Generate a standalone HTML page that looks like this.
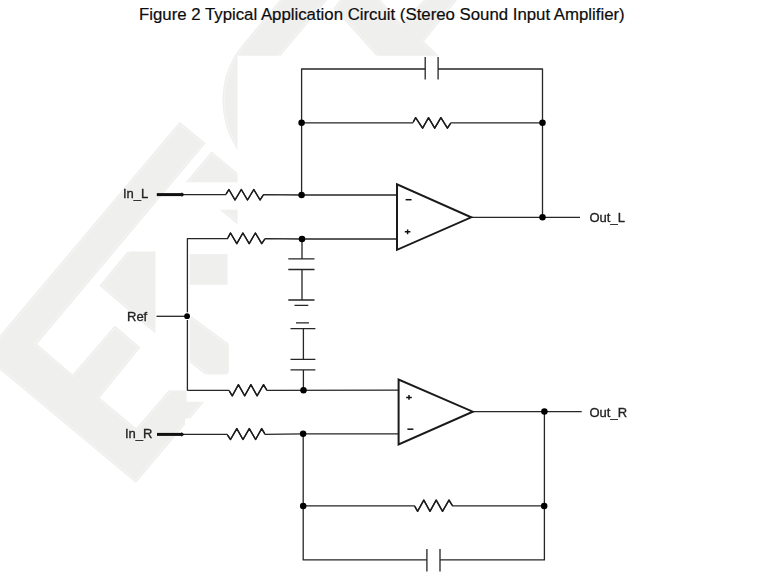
<!DOCTYPE html>
<html>
<head>
<meta charset="utf-8">
<title>Figure 2 Typical Application Circuit</title>
<style>
  html, body { margin: 0; padding: 0; background: #ffffff; }
  body { width: 770px; height: 578px; overflow: hidden; position: relative;
         font-family: "Liberation Sans", sans-serif; }
  svg { position: absolute; left: 0; top: 0; display: block; }
  #circuit { will-change: transform; }
  #title { position: absolute; left: 139px; top: 5px; margin: 0; font-size: 16.8px; line-height: 19px; white-space: nowrap; color: #0c0c0c; font-weight: normal; -webkit-text-stroke: 0.2px #0c0c0c; }
  .wm { fill: #efefee; stroke: none; }
  .w  { fill: #ffffff; stroke: none; }
  .ln { fill: none; stroke: #262626; stroke-width: 1.3; stroke-linecap: butt; stroke-linejoin: round; }
  .rz { fill: none; stroke: #1c1c1c; stroke-width: 1.4; stroke-linecap: round; stroke-linejoin: round; }
  .thick { fill: none; stroke: #111111; stroke-width: 3; }
  .amp { fill: none; stroke: #1a1a1a; stroke-width: 2; stroke-linejoin: miter; }
  .dot { fill: #000000; }
  .lbl { font-family: "Liberation Sans", sans-serif; font-size: 13px; fill: #222222; stroke: #222222; stroke-width: 0.32; }
  .ttl { font-family: "Liberation Sans", sans-serif; font-size: 16.8px; fill: #0c0c0c; stroke: #0c0c0c; stroke-width: 0.2; }
  .sg  { fill: none; stroke: #111; stroke-width: 1.5; }
</style>
</head>
<body>
<svg width="770" height="578" viewBox="0 0 770 578">
  <rect x="0" y="0" width="770" height="578" fill="#ffffff"/>

  <!-- ================= watermark (light grey logo fragments) ================= -->
  <defs><clipPath id="wmclip"><path d="M280,0 L327.3,0 L280.7,55.8 L237.5,55.8 L237.5,150 A88,88 0 0 1 243.6,43.4 Z"/>
    <path d="M340,0 L380.3,0 L401,22.9 L424,0 L457,0 L424,41.6 L438.5,55.8 L376.4,55.8 L333.6,8.2 Z"/>
    
    <path d="M179.7,121.8 L205.7,143.3 L37.1,344 L72.6,374.4 L114.8,325.5 L140.5,347.6 L99.6,397.8 L136.2,428.3
             L168.5,390.4 L186.6,390.4 L186.6,401.8 L204.1,401.8 L190.2,418.6 L185.2,418.6 L185.2,424.4
             L135.9,483.1 L-17.1,355.6 Z"/>
    
    <path d="M211.6,151.4 L237.5,173.1 L237.5,182.2 L185.7,182.2 Z"/>
    <path d="M219.9,209.8 L237.5,209.8 L237.5,224.4 Z"/>
    <path d="M127.6,251.4 L155.5,251.4 L155.5,333.5 L99.4,285.7 Z"/>
    <rect x="189.7" y="254.1" width="37.9" height="30.6"/>
    <path d="M189.7,314.9 L228.8,343.7 L228.8,371 Q228.8,374.4 225.4,374.4 L205.3,374.4 L189.7,362.3 Z"/></clipPath></defs>
  <g class="wm">
    <!-- top shape: arc + bands near the title -->
    <path d="M280,0 L327.3,0 L280.7,55.8 L237.5,55.8 L237.5,150 A88,88 0 0 1 243.6,43.4 Z"/>
    <path d="M340,0 L380.3,0 L401,22.9 L424,0 L457,0 L424,41.6 L438.5,55.8 L376.4,55.8 L333.6,8.2 Z"/>
    <!-- first "E": top arm, spine, middle arm, bottom arm -->
    <path d="M179.7,121.8 L205.7,143.3 L37.1,344 L72.6,374.4 L114.8,325.5 L140.5,347.6 L99.6,397.8 L136.2,428.3
             L168.5,390.4 L186.6,390.4 L186.6,401.8 L204.1,401.8 L190.2,418.6 L185.2,418.6 L185.2,424.4
             L135.9,483.1 L-17.1,355.6 Z"/>
    <!-- second shape fragments -->
    <path d="M211.6,151.4 L237.5,173.1 L237.5,182.2 L185.7,182.2 Z"/>
    <path d="M219.9,209.8 L237.5,209.8 L237.5,224.4 Z"/>
    <path d="M127.6,251.4 L155.5,251.4 L155.5,333.5 L99.4,285.7 Z"/>
    <rect x="189.7" y="254.1" width="37.9" height="30.6"/>
    <path d="M189.7,314.9 L228.8,343.7 L228.8,371 Q228.8,374.4 225.4,374.4 L205.3,374.4 L189.7,362.3 Z"/>
  </g>
  <!-- faint inner outline of the logo (natural edges only) -->
  <g clip-path="url(#wmclip)" fill="none" stroke="#ffffff" stroke-opacity="0.55" stroke-width="0.8">
    <path d="M206.5,396.0 L184.9,422.0"/>
    <path d="M187.6,418.6 L135.7,480.4 L-14.4,355.4 L179.9,124.5 L203.0,143.5 L34.4,344.2 L72.8,377.1 L115.0,328.2 L137.9,347.8 L96.9,398.1 L136.4,431.0 L173.8,387.1"/>
    <path d="M183.3,188.0 L211.8,154.1 L240.9,178.4"/>
    <path d="M243.3,226.8 L216.5,204.5"/>
    <path d="M161.3,335.9 L102.1,285.5 L132.9,248.0"/>
    <path d="M183.7,312.9 L232.5,348.8"/>
    <path d="M211.2,376.6 L186.1,357.1"/>
    <path d="M374.9,-3.2 L400.9,25.7 L429.6,-2.9"/>
    <path d="M459.2,-5.9 L421.4,41.8 L441.5,61.4"/>
    <path d="M381.8,59.0 L336.1,8.1 L345.2,-3.6"/>
    <path d="M329.7,-5.8 L275.4,59.2"/>
    <path d="M241.5,152.4 A86.1,86.1 0 0 1 245.05,44.65 L285.3,-3.4"/>
  </g>


  </svg>
<h1 id="title">Figure 2 Typical Application Circuit (Stereo Sound Input Amplifier)</h1>
<svg id="circuit" width="770" height="578" viewBox="0 0 770 578">
  <!-- ================= wires ================= -->
  <g class="ln">
    <!-- top feedback: capacitor branch -->
    <path d="M301.6,195 L301.6,69 L425.2,69"/>
    <path d="M438.1,69 L542.5,69 L542.5,217.3"/>
    <path d="M425.2,57 L425.2,79.6 M438.1,57 L438.1,79.6"/>
    <!-- top feedback: resistor branch -->
    <path d="M301.6,122.8 L412.8,122.8 L415.6,117.7 L422.6,128.2 L428.5,117.7 L434.7,128.2 L440.9,117.7 L447.4,128.2 L450.9,122.8 L542.5,122.8"/>
    <!-- In_L line -->
    <path d="M183,194.6 L225.7,194.6 L228.9,189.5 L235,200 L241.3,189.5 L247.5,200 L253.8,189.5 L260.1,200 L263.5,194.6 L301.6,195 L397,195"/>
    <!-- + input of top amp -->
    <path d="M187.4,390.4 L187.4,238.6 L227.5,238.6 L230.5,233 L236.8,243.6 L242.9,233 L249.2,243.6 L255.4,233 L261.7,243.6 L265.1,238.6 L302,239 L397,239"/>
    <!-- Ref -->
    <circle cx="187.2" cy="316.2" r="3.9" fill="#ffffff" stroke="none"/>
    <path d="M156.5,316.3 L187.1,316.3"/>
    <!-- top amp output -->
    <path d="M471,217.3 L580,217.3"/>
    <!-- capacitor chain -->
    <path d="M302,239 L302,258.9 M288.3,258.9 L314.5,258.9 M288.3,269.5 L314.5,269.5 M302,269.5 L302,300 M288.3,300 L314.5,300 M294.5,305.4 L308.3,305.4"/>
    <path d="M296,322.8 L309,322.8 M290.5,328.7 L315.4,328.7 M303.4,328.7 L303.4,359.3 M290.5,359.3 L315.4,359.3 M290.5,369.8 L315.4,369.8 M303.4,369.8 L303.4,390.4"/>
    <!-- + input of bottom amp -->
    <path d="M187.4,390.4 L228.9,390.4 L232.3,395.8 L238.4,384.7 L244.7,395.8 L250.9,384.7 L257.1,395.8 L263.5,384.7 L266.9,390.4 L398.6,390.2"/>
    <!-- In_R line -->
    <path d="M183,434.4 L227.1,434.4 L230.5,439.5 L236.8,428.6 L243,439.5 L249.3,428.6 L255.6,439.5 L261.7,428.6 L265.1,434.4 L303.1,433.9 L398.6,433.9"/>
    <!-- bottom feedback -->
    <path d="M303.2,434 L303.2,559.9 L426.9,559.9"/>
    <path d="M440,559.9 L544.4,559.9 L544.4,411.6"/>
    <path d="M426.9,549 L426.9,571.5 M440,549 L440,571.5"/>
    <path d="M303.2,505.9 L414.5,505.9 L417.6,511.3 L423.8,500.1 L430,511.3 L436.2,500.1 L442.5,511.3 L449,500.1 L452.6,505.9 L544.4,505.9"/>
    <!-- bottom amp output -->
    <path d="M472.6,411.6 L581.7,411.6"/>
  </g>


  <!-- resistor zig-zags (slightly heavier stroke) -->
  <g class="rz">
    <path d="M413.6,121.4 L415.6,117.7 L422.6,128.2 L428.5,117.7 L434.7,128.2 L440.9,117.7 L447.4,128.2 L450.2,123.9"/>
    <path d="M226.5,193.3 L228.9,189.5 L235,200 L241.3,189.5 L247.5,200 L253.8,189.5 L260.1,200 L262.8,195.7"/>
    <path d="M228.3,237.1 L230.5,233 L236.8,243.6 L242.9,233 L249.2,243.6 L255.4,233 L261.7,243.6 L264.4,239.7"/>
    <path d="M229.7,391.7 L232.3,395.8 L238.4,384.7 L244.7,395.8 L250.9,384.7 L257.1,395.8 L263.5,384.7 L266.2,389.2"/>
    <path d="M227.9,435.6 L230.5,439.5 L236.8,428.6 L243,439.5 L249.3,428.6 L255.6,439.5 L261.7,428.6 L264.4,433.2"/>
    <path d="M415.2,507.1 L417.6,511.3 L423.8,500.1 L430,511.3 L436.2,500.1 L442.5,511.3 L449,500.1 L451.9,504.8"/>
  </g>

  <!-- thick input stubs -->
  <path class="thick" d="M156.8,194.6 L182.4,194.6"/>
  <path d="M181.6,192.3 L184.6,194.6 L181.6,196.9 Z" fill="#111"/>
  <path class="thick" d="M157,434.4 L182.2,434.4"/>
  <path d="M181.4,432.1 L184.4,434.4 L181.4,436.7 Z" fill="#111"/>

  <!-- op-amps -->
  <path class="amp" d="M397,184.3 L397,249.8 L471.2,217.3 Z"/>
  <path class="amp" d="M398.6,379.6 L398.6,444.4 L472.8,411.7 Z"/>
  <!-- signs -->
  <path class="sg" d="M405.6,199.7 L411.6,199.7"/>
  <path class="sg" d="M404.8,231.8 L410.4,231.8 M407.6,229.4 L407.6,234.2"/>
  <path class="sg" d="M406.2,397.4 L411.8,397.4 M409,395 L409,399.8"/>
  <path class="sg" d="M407.4,429.2 L413.4,429.2"/>

  <!-- junction dots -->
  <g class="dot">
    <circle cx="301.6" cy="122.8" r="3.25"/>
    <circle cx="542.5" cy="122.8" r="3.25"/>
    <circle cx="301.6" cy="195.1" r="3.25"/>
    <circle cx="542.5" cy="217.3" r="3.25"/>
    <circle cx="302" cy="238.9" r="3.25"/>
    <circle cx="187.1" cy="316.2" r="2.9"/>
    <circle cx="303.5" cy="390.3" r="3.25"/>
    <circle cx="303.1" cy="433.8" r="3.25"/>
    <circle cx="544.4" cy="411.6" r="3.25"/>
    <circle cx="303.2" cy="506" r="3.25"/>
    <circle cx="544.2" cy="506.1" r="3.25"/>
  </g>

  <!-- labels -->
  <text class="lbl" x="123" y="198.4">In_L</text>
  <text class="lbl" x="127" y="320.6">Ref</text>
  <text class="lbl" x="125" y="438.2">In_R</text>
  <text class="lbl" x="589.5" y="222.2">Out_L</text>
  <text class="lbl" x="589.5" y="416.6">Out_R</text>
</svg>
</body>
</html>
